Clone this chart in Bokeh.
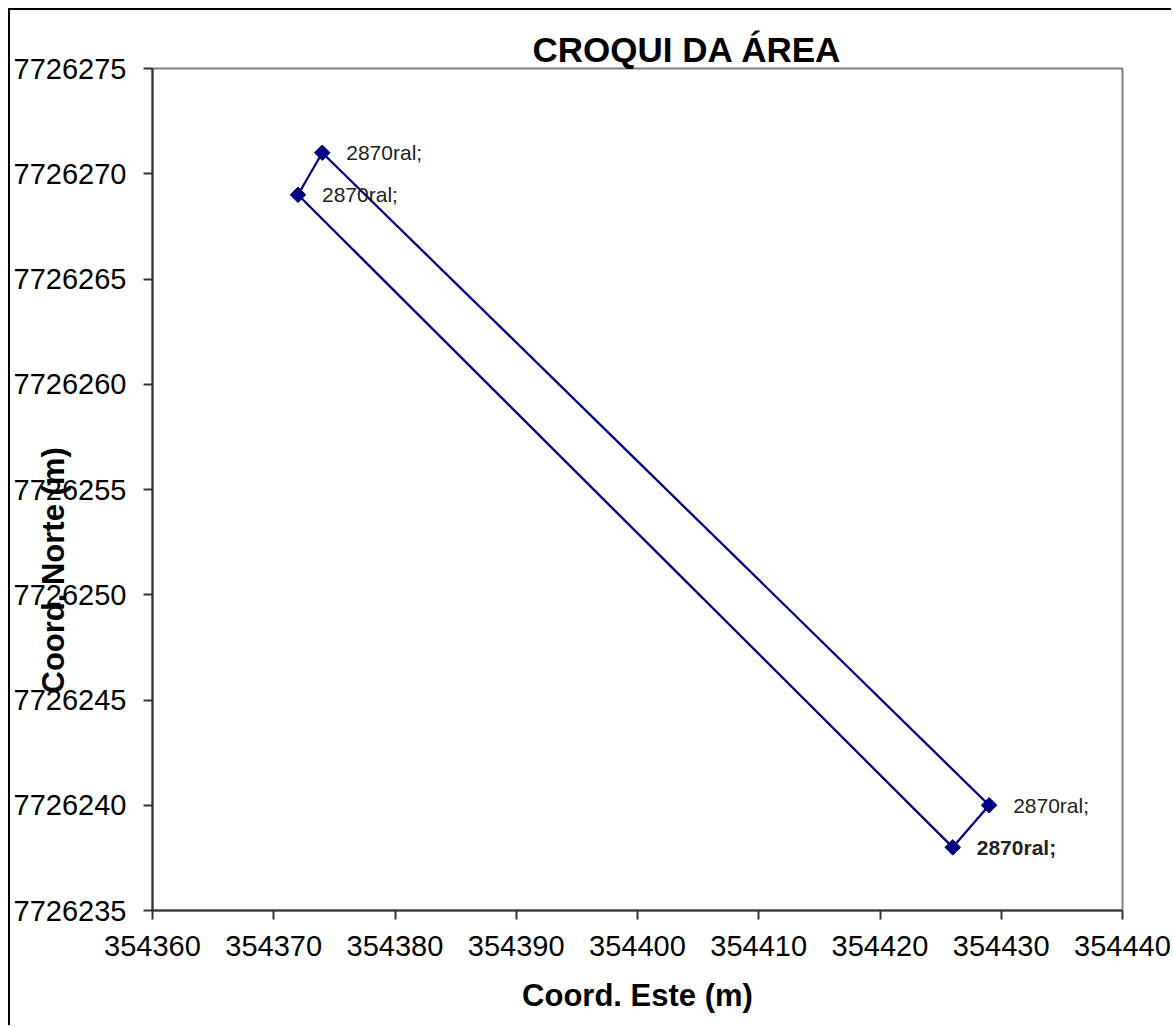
import math
from bokeh.plotting import figure
from bokeh.models import ColumnDataSource, Title, FixedTicker, BasicTickFormatter, Range1d
from bokeh.core.properties import value
from bokeh.embed import file_html
from bokeh.resources import INLINE

# ---- data ----
este = [354374, 354429, 354426, 354372]
norte = [7726271, 7726240, 7726238, 7726269]
point_labels = ["2870ral;", "2870ral;", "2870ral;", "2870ral;"]
label_styles = ["normal", "normal", "bold", "normal"]
x_ticks = [354360, 354370, 354380, 354390, 354400, 354410, 354420, 354430, 354440]
y_ticks = [7726235, 7726240, 7726245, 7726250, 7726255, 7726260, 7726265, 7726270, 7726275]
title_text = "CROQUI DA ÁREA"
x_title = "Coord. Este (m)"
y_title = "Coord. Norte (m)"

FONT = "Liberation Sans"
NAVY = "#000080"
W, H = 1163, 1017

p = figure(width=W, height=H, output_backend="svg", toolbar_location=None,
           x_range=Range1d(x_ticks[0], x_ticks[-1]), y_range=Range1d(y_ticks[0], y_ticks[-1]),
           min_border_left=142, min_border_top=58, min_border_right=51, min_border_bottom=117)
p.styles = {"border-top": "2px solid black", "border-left": "2px solid black",
            "margin-left": "8px", "margin-top": "8px"}

p.xgrid.visible = False
p.ygrid.visible = False
p.outline_line_color = "#808080"
p.outline_line_width = 2
p.background_fill_color = "white"
p.border_fill_color = "white"

for ax in (p.xaxis[0], p.yaxis[0]):
    ax.axis_line_color = "#333333"
    ax.axis_line_width = 2
    ax.major_tick_line_color = "#333333"
    ax.major_tick_line_width = 2
    ax.major_tick_out = 9
    ax.major_tick_in = 0
    ax.minor_tick_line_color = None
    ax.major_label_text_font = FONT
    ax.major_label_text_font_size = "29px"
    ax.major_label_text_color = "#000000"
    ax.formatter = BasicTickFormatter(use_scientific=False)

p.xaxis.ticker = FixedTicker(ticks=x_ticks)
p.yaxis.ticker = FixedTicker(ticks=y_ticks)
p.xaxis.major_label_standoff = 16
p.yaxis.major_label_standoff = 17

p.xaxis.axis_label = x_title
p.xaxis.axis_label_text_font = FONT
p.xaxis.axis_label_text_font_size = "31px"
p.xaxis.axis_label_text_font_style = "bold"
p.xaxis.axis_label_text_color = "#000000"
p.xaxis.axis_label_standoff = 19

# title
p.title.text = title_text
p.title.text_font = FONT
p.title.text_font_size = "35px"
p.title.text_font_style = "bold"
p.title.text_color = "#000000"
p.title.align = "left"
p.title.offset = 380
p.title.standoff = 0

# y axis title, placed like the original (overlapping the tick labels)
p.add_layout(Title(text=y_title, align="left", offset=217, vertical_align="bottom",
                   standoff=-120, text_font=FONT, text_font_size="31px",
                   text_font_style="bold", text_color="#000000"), "left")

# polygon outline
src_line = ColumnDataSource(dict(x=este + este[:1], y=norte + norte[:1]))
p.line("x", "y", source=src_line, line_color=NAVY, line_width=2.3)

src = ColumnDataSource(dict(x=este, y=norte, lab=point_labels, fs=label_styles))
p.scatter("x", "y", source=src, marker="square", size=11, angle=math.pi / 4,
          fill_color=NAVY, line_color=NAVY)
p.text("x", "y", text="lab", source=src, x_offset=24, text_baseline="middle",
       text_align="left", text_font=value(FONT), text_font_size="21px",
       text_font_style="fs", text_color="#222222")

open("out.html", "w").write(file_html(p, INLINE))
